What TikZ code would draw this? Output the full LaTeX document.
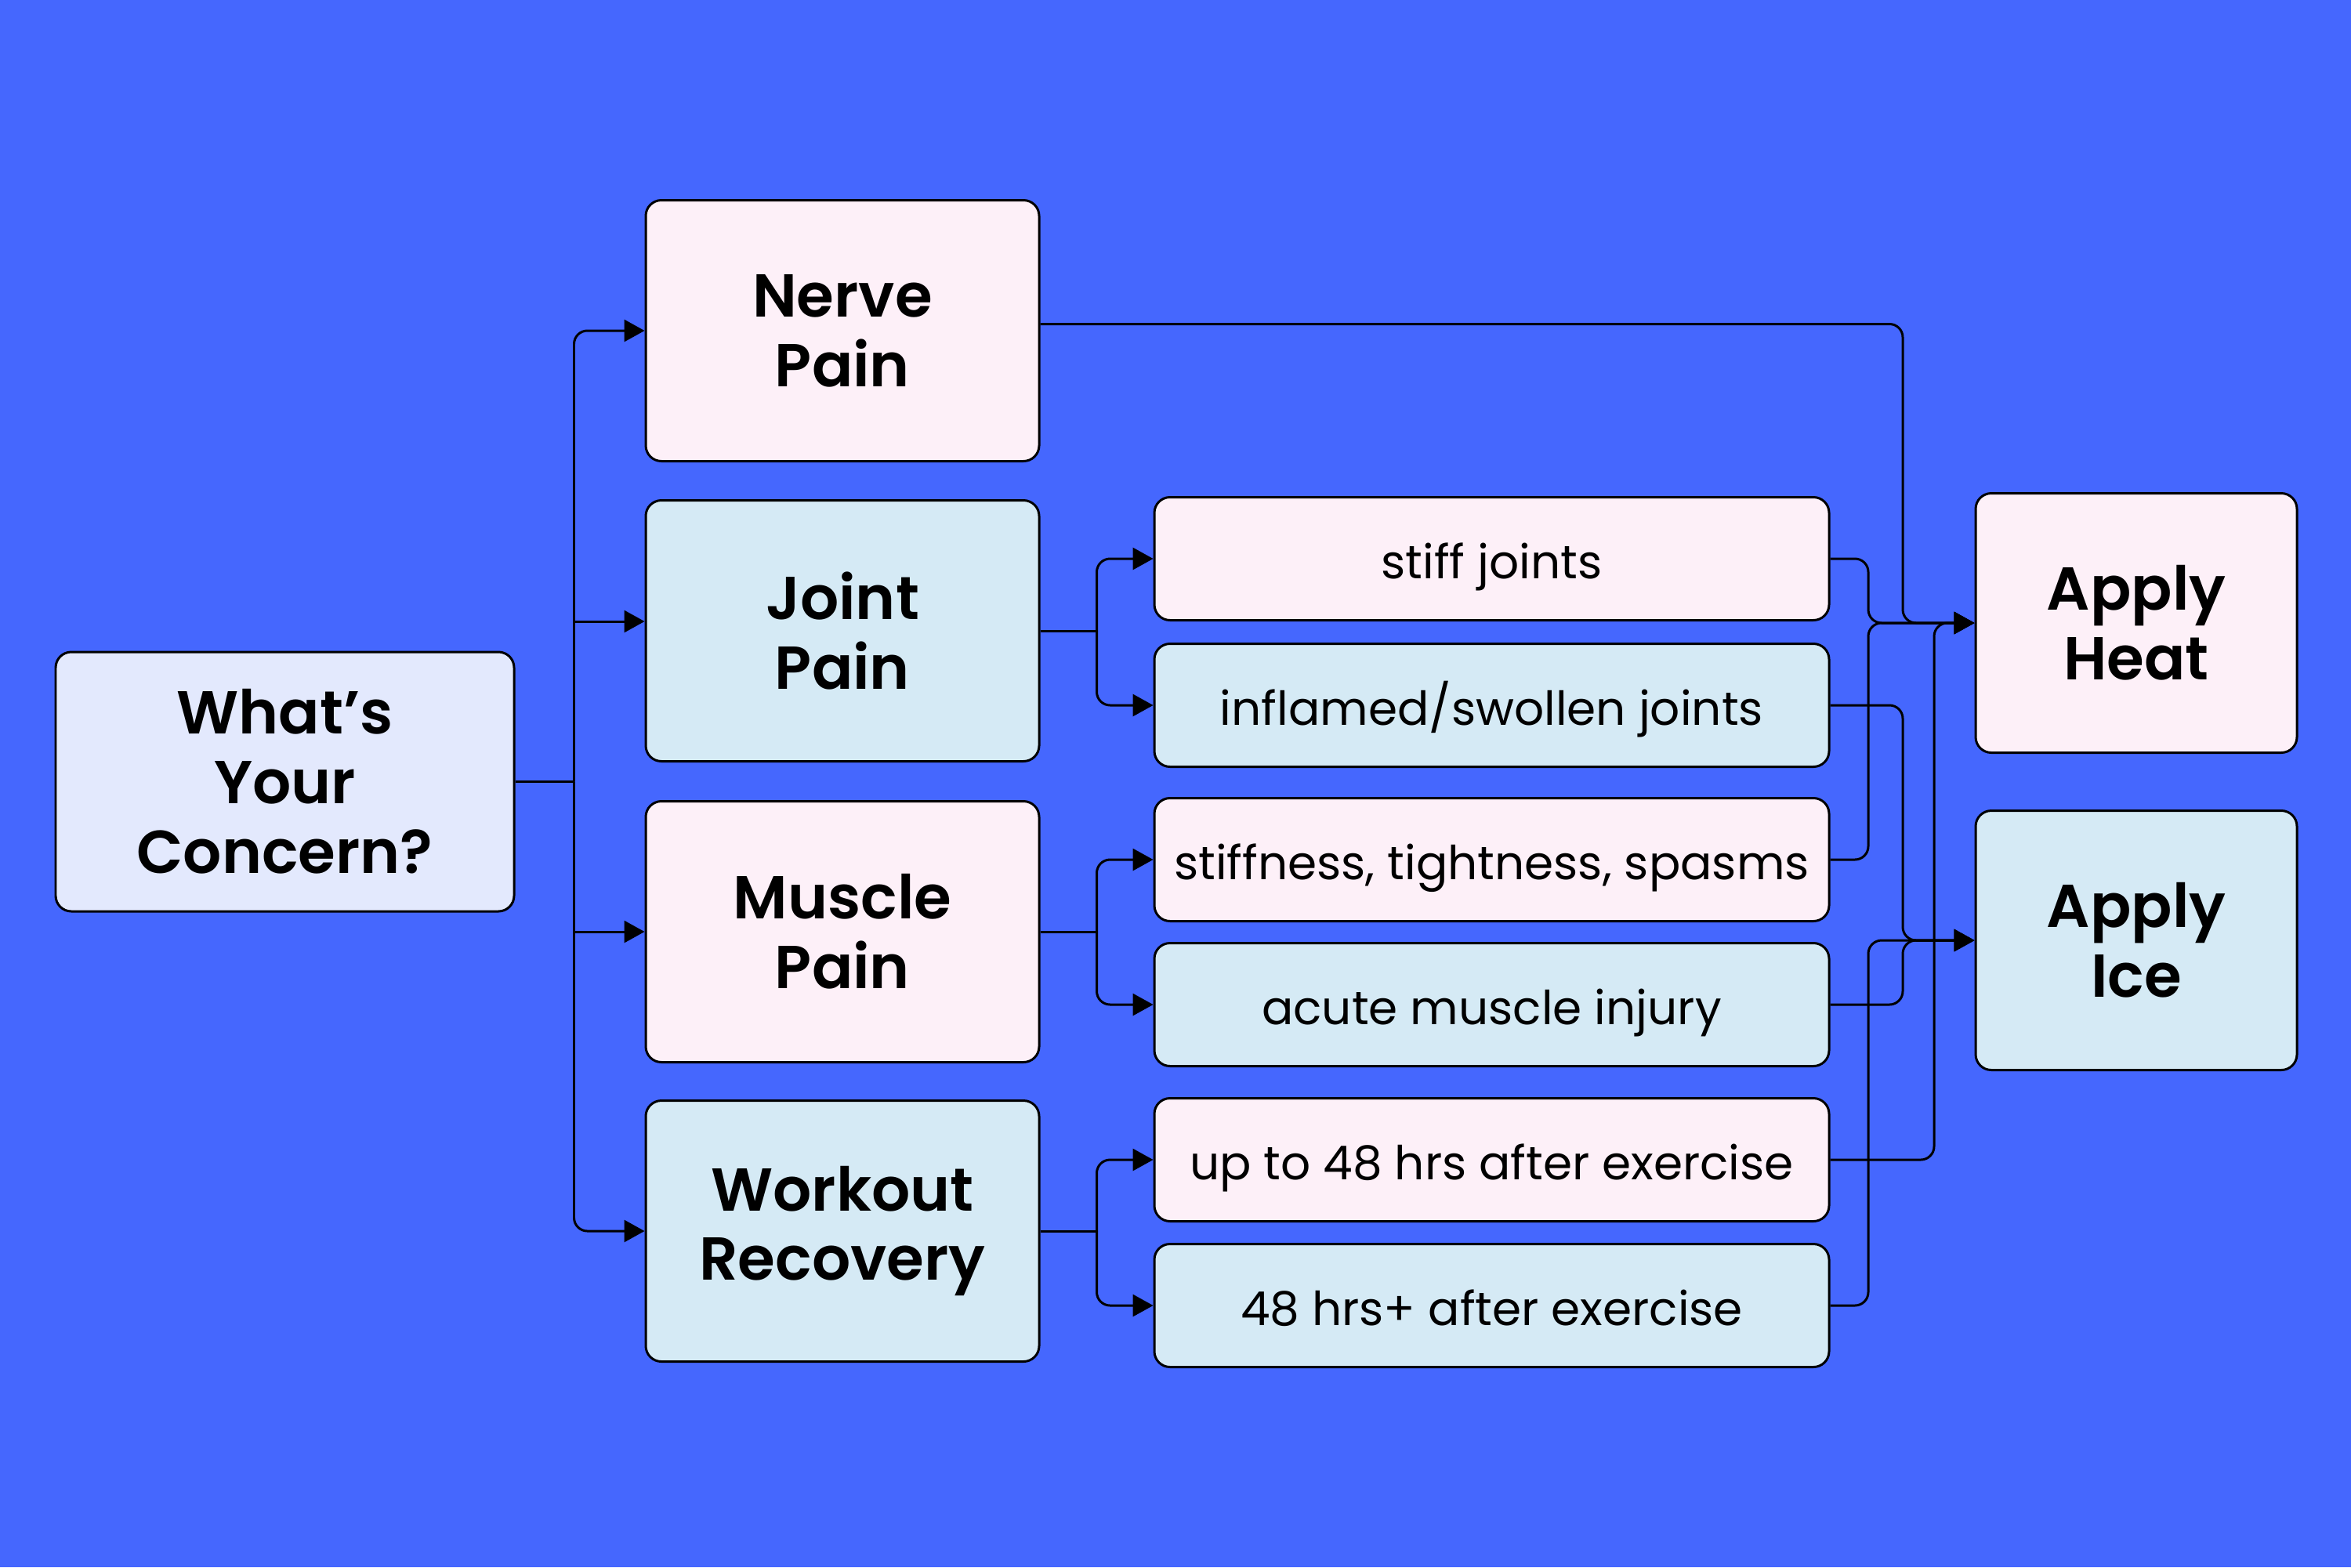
\documentclass[tikz,border=0pt]{standalone}
\usepackage{fontspec}
\setmainfont{Poppins}[BoldFont={Poppins SemiBold}]
\usetikzlibrary{arrows.meta}
\definecolor{bg}{HTML}{4567FE}
\definecolor{pinkbox}{HTML}{FDF0F8}
\definecolor{bluebox}{HTML}{D5EAF5}
\definecolor{lilacbox}{HTML}{E3E9FD}
\begin{document}
\begin{tikzpicture}[
    box/.style = {draw, line width=0.85pt, rounded corners=0.2cm, inner sep=0pt, align=center},
    big/.style = {box, minimum width=5.02cm, minimum height=3.33cm, font=\fontsize{22}{25.3}\selectfont\bfseries},
    small/.style = {box, minimum width=8.61cm, minimum height=1.57cm, text height=0.5cm, text depth=0cm, font=\fontsize{17}{20}\selectfont},
    goal/.style = {big, minimum width=4.1cm, minimum height=3.31cm},
    arr/.style = {line width=0.85pt, rounded corners=0.17cm, -{Triangle[length=0.26cm, width=0.28cm]}},
    lin/.style = {line width=0.85pt, rounded corners=0.17cm}]
    \fill[bg] (0,0) rectangle (30,-20);
    \useasboundingbox (0,0) rectangle (30,-20);
    % start
    \node[big, fill=lilacbox, minimum width=5.85cm, minimum height=3.31cm] (q) at (3.635,-9.975) {What’s\\Your\\Concern?};
    % kinds of pain
    \node[big, fill=pinkbox] (nerve) at (10.75,-4.22) {Nerve\\Pain};
    \node[big, fill=bluebox] (joint) at (10.75,-8.05) {Joint\\Pain};
    \node[big, fill=pinkbox] (muscle) at (10.75,-11.89) {Muscle\\Pain};
    \node[big, fill=bluebox] (workout) at (10.75,-15.71) {Workout\\Recovery};
    % details
    \node[small, fill=pinkbox] (stiff) at (19.035,-7.13) {stiff joints};
    \node[small, fill=bluebox] (inflamed) at (19.035,-9.0) {inflamed/swollen joints};
    \node[small, fill=pinkbox] (stiffness) at (19.035,-10.97) {stiffness, tightness, spasms};
    \node[small, fill=bluebox] (acute) at (19.035,-12.82) {acute muscle injury};
    \node[small, fill=pinkbox] (upto) at (19.035,-14.8) {up to 48 hrs after exercise};
    \node[small, fill=bluebox] (plus) at (19.035,-16.66) {48 hrs+ after exercise};
    % answers
    \node[goal, fill=pinkbox] (heat) at (27.26,-7.95) {Apply\\Heat};
    \node[goal, fill=bluebox] (ice) at (27.26,-12.0) {Apply\\Ice};
    % bus lines
    \coordinate (c1) at (23.84,0);
    \coordinate (c2) at (24.28,0);
    \coordinate (c3) at (24.68,0);
    \coordinate (jin) at ([yshift=0.12cm]joint.west);
    \coordinate (nout) at ([yshift=0.085cm]nerve.east);
    % left fork
    \draw[lin] (q.east) -- ++(0.75,0) coordinate (qf);
    \draw[arr] (qf) |- (nerve.west);
    \draw[arr] (qf) |- (workout.west);
    \draw[arr] (qf |- jin) -- (jin);
    \draw[arr] (qf |- muscle.west) -- (muscle.west);
    % middle forks
    \foreach \a/\b/\c in {joint/stiff/inflamed, muscle/stiffness/acute, workout/upto/plus} {
        \draw[lin] (\a.east) -- ++(0.72,0) coordinate (\a f);
        \draw[arr] (\a f) |- (\b.west);
        \draw[arr] (\a f) |- (\c.west);
    }
    % to heat
    \draw[arr] (nout) -| (c2 |- heat.west) -- (heat.west);
    \draw[arr] (stiff.east) -| (c1 |- heat.west) -- (heat.west);
    \draw[arr] (stiffness.east) -| (c1 |- heat.west) -- (heat.west);
    \draw[arr] (upto.east) -| (c3 |- heat.west) -- (heat.west);
    % to ice
    \draw[arr] (inflamed.east) -| (c2 |- ice.west) -- (ice.west);
    \draw[arr] (acute.east) -| (c2 |- ice.west) -- (ice.west);
    \draw[arr] (plus.east) -| (c1 |- ice.west) -- (ice.west);
\end{tikzpicture}
\end{document}
